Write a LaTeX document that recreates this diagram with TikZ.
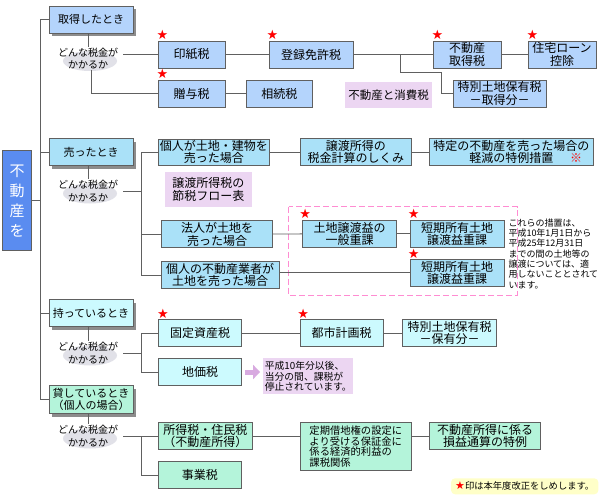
\documentclass[tikz,border=0pt]{standalone}
\usepackage{fontspec}
\setmainfont{Noto Sans CJK JP}
\newfontfamily\symfont{DejaVu Sans}
\usepackage{tikz}
\usetikzlibrary{positioning}
\usetikzlibrary{shapes.geometric}
\usetikzlibrary{shadows}
\usetikzlibrary{arrows.meta}
\definecolor{waku}{RGB}{96,96,96}
\definecolor{kon}{RGB}{90,140,240}
\definecolor{aoiro}{RGB}{180,212,252}
\definecolor{mizuiro}{RGB}{170,225,248}
\definecolor{usuao}{RGB}{204,250,254}
\definecolor{wakaba}{RGB}{180,244,218}
\definecolor{usumurasaki}{RGB}{236,214,242}
\definecolor{haiiro}{RGB}{225,225,232}
\definecolor{momoiro}{RGB}{255,140,210}
\definecolor{yajirushiiro}{RGB}{216,170,224}
\definecolor{kiiro}{RGB}{255,255,200}

\begin{document}
\begin{tikzpicture}[x=1pt, y=-1pt,
				internal/.style={draw=waku, rectangle, line width=0.9pt, inner sep=1pt, align=center, font=\fontsize{12}{12.5}\selectfont},
				category/.style={internal, minimum width=84pt, minimum height=27pt, font=\fontsize{11}{12.5}\selectfont, drop shadow={shadow xshift=3pt, shadow yshift=-3pt, fill=black, opacity=0.45}},
				question/.style={inner sep=1pt, align=center, font=\fontsize{10}{12.5}\selectfont},
				questionbg/.style={ellipse, fill=haiiro, minimum width=54pt, minimum height=20pt, inner sep=0pt},
				memo/.style={rectangle, fill=usumurasaki, inner sep=1pt, align=center, font=\fontsize{12}{12.5}\selectfont},
				chuki/.style={inner sep=1pt, align=left, font=\fontsize{9.5}{10.3}\selectfont},
				kaisei/.style={text=red, inner sep=0pt, font=\symfont\fontsize{13}{13}\selectfont},
				line/.style={draw=waku, line width=0.9pt}]
				\path[fill=white] (0, 0) rectangle (600, 500);
				\useasboundingbox (0, 0) rectangle (600, 500);
				
				% root and categories
				\node[internal, fill=kon, text=white, minimum width=29pt, minimum height=100pt, font=\fontsize{15}{20}\selectfont](node0) at (17.2, 200.8) {不\\動\\産\\を};
				\node[category, fill=aoiro](node1) at (91, 19.5) {取得したとき};
				\node[category, fill=mizuiro](node2) at (91, 152.3) {売ったとき};
				\node[category, fill=usuao](node3) at (91, 313.3) {持っているとき};
				\node[category, fill=wakaba, minimum height=28pt](node4) at (91, 399.5) {貸しているとき\\（個人の場合）};
				
				\coordinate (trunk) at (40.7, 19.5);
				\draw[line] (node1.west) -- (trunk) |- (node4.west);
				\draw[line] (trunk |- node2.west) -- (node2.west);
				\draw[line] (trunk |- node3.west) -- (node3.west);
				\draw[line] (node0.east) -- (node0.east -| trunk);
				
				% どんな税金がかかるか
				\node[questionbg](e1) at (90, 61) {};
				\node[question](q1) at (88, 58.5) {どんな税金が\\かかるか};
				\node[questionbg](e2) at (90, 193.5) {};
				\node[question](q2) at (88, 191) {どんな税金が\\かかるか};
				\node[questionbg](e3) at (90, 355.5) {};
				\node[question](q3) at (88, 353) {どんな税金が\\かかるか};
				\node[questionbg](e4) at (90, 438.5) {};
				\node[question](q4) at (88, 436) {どんな税金が\\かかるか};
				\draw[line] (node1.south -| q1) -- (q1.north);
				\draw[line] (node2.south -| q2) -- (q2.north);
				\draw[line] (node3.south -| q3) -- (q3.north);
				\draw[line] (node4.south -| q4) -- (q4.north);
				
				% 取得したとき
				\node[internal, fill=aoiro, minimum width=67pt, minimum height=27pt](node11) at (191.5, 54.5) {印紙税};
				\node[internal, fill=aoiro, minimum width=84pt, minimum height=27pt](node12) at (311, 54.5) {登録免許税};
				\node[internal, fill=aoiro, minimum width=68pt, minimum height=27pt](node13) at (467, 54.5) {不動産\\取得税};
				\node[internal, fill=aoiro, minimum width=68pt, minimum height=27pt](node14) at (562, 54.5) {住宅ローン\\控除};
				\node[internal, fill=aoiro, minimum width=67pt, minimum height=27pt](node15) at (191.5, 93.5) {贈与税};
				\node[internal, fill=aoiro, minimum width=66pt, minimum height=27pt, right=20.5pt of node15](node16) {相続税};
				\node[internal, fill=aoiro, minimum width=93pt, minimum height=27pt](node17) at (499.5, 93.5) {特別土地保有税\\－取得分－};
				\node[memo, minimum width=87pt, minimum height=26pt, font=\fontsize{11.5}{12}\selectfont](memo1) at (388.5, 95) {不動産と消費税};
				
				\draw[line] ([xshift=4pt]q1.east |- node11.west) -- (node11.west);
				\draw[line] (node11) -- (node12);
				\draw[line] (node12) -- (node13);
				\draw[line] (node13) -- (node14);
				\draw[line] ([xshift=3pt]q1.south) |- (node15.west);
				\draw[line] (node15) -- (node16);
				\coordinate (br1) at (400.7, 54.5);
				\coordinate (br1b) at (441.7, 72.7);
				\draw[line] (br1) |- (br1b) |- (node17.west);
				
				% 売ったとき
				\node[internal, fill=mizuiro, minimum width=111pt, minimum height=26pt](node21) at (213.8, 152) {個人が土地・建物を\\売った場合};
				\node[internal, fill=mizuiro, minimum width=111.7pt, minimum height=27.4pt](node22) at (355.8, 152) {譲渡所得の\\税金計算のしくみ};
				\node[internal, fill=mizuiro, minimum width=164pt, minimum height=27.4pt](node23) at (511.3, 152) {特定の不動産を売った場合の\\軽減の特例措置\rlap{\hspace{1.4em}\textcolor{red}{※}}};
				\node[memo, minimum width=86.7pt, minimum height=34.4pt](memo2) at (208.3, 189.5) {譲渡所得税の\\節税フロー表};
				\node[internal, fill=mizuiro, minimum width=110.6pt, minimum height=27pt](node24) at (217, 234.2) {法人が土地を\\売った場合};
				\node[internal, fill=mizuiro, minimum width=118.3pt, minimum height=26.6pt](node25) at (220.2, 275) {個人の不動産業者が\\土地を売った場合};
				\node[internal, fill=mizuiro, minimum width=94pt, minimum height=27.7pt](node26) at (349.7, 233.8) {土地譲渡益の\\一般重課};
				\node[internal, fill=mizuiro, minimum width=94.3pt, minimum height=27.7pt](node27) at (457.2, 233.8) {短期所有土地\\譲渡益重課};
				\node[internal, fill=mizuiro, minimum width=94.3pt, minimum height=26.7pt](node28) at (457.2, 272.7) {短期所有土地\\譲渡益重課};
				\draw[momoiro, line width=0.9pt, dash pattern=on 6pt off 3pt] (288.7, 206.7) rectangle (517.3, 295);
				\node[chuki, anchor=north west, font=\fontsize{9}{10.3}\selectfont](chu1) at (507.3, 217.5) {これらの措置は、\\平成10年1月1日から\\平成25年12月31日\\までの間の土地等の\\譲渡については、適\\用しないこととされて\\います。};
				
				\coordinate (br2) at (141.7, 191);
				\draw[line] ([xshift=4pt]q2.east) -- (br2);
				\draw[line] (node21.west) -| (br2) |- (node25.west);
				\draw[line] (br2) |- (node24.west);
				\draw[line] (node21) -- (node22);
				\draw[line] (node22) -- (node23);
				\draw[line] (node24) -- (node26);
				\draw[line] (node26) -- (node27);
				\draw[line] (node28.west -| node25.east) -- (node28.west);
				
				% 持っているとき
				\node[internal, fill=usuao, minimum width=83.4pt, minimum height=27.4pt](node31) at (200, 333) {固定資産税};
				\node[internal, fill=usuao, minimum width=83.3pt, minimum height=27.4pt](node32) at (341.7, 333) {都市計画税};
				\node[internal, fill=usuao, minimum width=94.4pt, minimum height=27.4pt](node33) at (449.5, 333) {特別土地保有税\\－保有分－};
				\node[internal, fill=usuao, minimum width=83.4pt, minimum height=27.4pt](node34) at (200, 372) {地価税};
				\node[memo, minimum width=90pt, minimum height=36pt, align=left, font=\fontsize{9.8}{10.3}\selectfont](memo3) at (308.3, 376.3) {平成10年分以後、\\当分の間、課税が\\停止されています。};
				
				\coordinate (br3) at (141.7, 353);
				\draw[line] ([xshift=4pt]q3.east) -- (br3);
				\draw[line] (node31.west) -| (br3) |- (node34.west);
				\draw[line] (node31) -- (node32);
				\draw[line] (node32) -- (node33);
				\draw[yajirushiiro, line width=5pt, -{Triangle[length=7pt, width=14pt]}, shorten <=3pt, shorten >=3pt] (node34.east) -- (node34.east -| memo3.west);
				
				% 貸しているとき
				\node[internal, fill=wakaba, minimum width=94pt, minimum height=26.6pt](node41) at (205.3, 436) {所得税・住民税\\（不動産所得）};
				\node[internal, fill=wakaba, minimum width=83pt, minimum height=26.6pt](node42) at (199.8, 475) {事業税};
				\node[internal, fill=wakaba, minimum width=111.7pt, minimum height=48.4pt, align=left, font=\fontsize{10.3}{10.6}\selectfont](node43) at (355.8, 446.5) {定期借地権の設定に\\より受ける保証金に\\係る経済的利益の\\課税関係};
				\node[internal, fill=wakaba, minimum width=111.4pt, minimum height=27pt](node44) at (485, 436) {不動産所得に係る\\損益通算の特例};
				
				\coordinate (br4) at (141.7, 436);
				\draw[line] ([xshift=4pt]q4.east |- node41.west) -- (node41.west);
				\draw[line] (br4) |- (node42.west);
				\draw[line] (node41.east) -- (node41.east -| node43.west);
				\draw[line] (node43.east |- node44.west) -- (node44.west);
				
				% 改正マーク
				\node[kaisei](s11) at ([xshift=5pt, yshift=5.5pt]node11.north west) {★};
				\node[kaisei](s12) at ([xshift=4pt, yshift=5.5pt]node12.north west) {★};
				\node[kaisei](s13) at ([xshift=5pt, yshift=5.5pt]node13.north west) {★};
				\node[kaisei](s14) at ([xshift=5pt, yshift=5.5pt]node14.north west) {★};
				\node[kaisei](s15) at ([xshift=5pt, yshift=5.5pt]node15.north west) {★};
				\node[kaisei](s26) at ([xshift=3pt, yshift=5.5pt]node26.north west) {★};
				\node[kaisei](s27) at ([xshift=4pt, yshift=5.5pt]node27.north west) {★};
				\node[kaisei](s28) at ([xshift=4pt, yshift=5.5pt]node28.north west) {★};
				\node[kaisei](s31) at ([xshift=5pt, yshift=5.5pt]node31.north west) {★};
				\node[kaisei](s32) at ([xshift=3.5pt, yshift=5.5pt]node32.north west) {★};
				
				\node[rectangle, rounded corners=4pt, fill=kiiro, minimum width=147.3pt, minimum height=16pt, inner sep=1pt, font=\fontsize{9.3}{10}\selectfont](hanrei) at (524.7, 486.3) {{\symfont\fontsize{11}{10}\selectfont\textcolor{red}{★}}印は本年度改正をしめします。};
			\end{tikzpicture}
\end{document}
